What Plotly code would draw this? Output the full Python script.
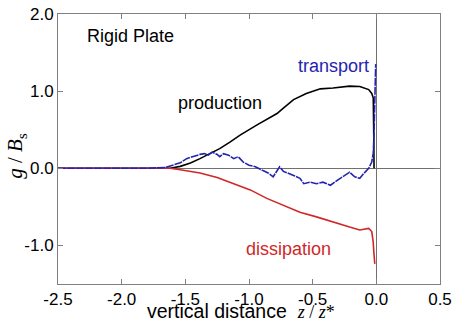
import plotly.graph_objects as go

# production (black)
prod_x = [-2.5, -1.8, -1.62, -1.54, -1.46, -1.385, -1.31, -1.23, -1.15, -1.07, -0.94, -0.78,
          -0.73, -0.65, -0.55, -0.44, -0.34, -0.21, -0.13, -0.06, -0.036, -0.024, -0.02, -0.018]
prod_y = [0.0, 0.0, 0.0, 0.025, 0.07, 0.125, 0.19, 0.255, 0.34, 0.43, 0.56, 0.71,
          0.78, 0.89, 0.97, 1.03, 1.04, 1.065, 1.06, 1.02, 0.97, 0.91, 0.4, 0.0]

# transport (blue)
trans_x = [-2.5, -1.8, -1.66, -1.62, -1.54, -1.49, -1.44, -1.385, -1.35, -1.32, -1.29, -1.25,
           -1.23, -1.20, -1.16, -1.12, -1.085, -1.045, -1.0, -0.95, -0.89, -0.85, -0.81, -0.76,
           -0.73, -0.68, -0.64, -0.60, -0.57, -0.52, -0.47, -0.42, -0.36, -0.31, -0.26, -0.21,
           -0.17, -0.13, -0.10, -0.06, -0.036, -0.024, -0.018, -0.012, -0.008, -0.005]
trans_y = [0.0, 0.0, 0.01, 0.03, 0.07, 0.125, 0.155, 0.18, 0.19, 0.17, 0.21, 0.18,
           0.15, 0.19, 0.17, 0.125, 0.15, 0.08, 0.04, 0.02, -0.03, -0.06, -0.11, 0.02,
           -0.04, -0.07, -0.10, -0.13, -0.20, -0.18, -0.20, -0.18, -0.22, -0.16, -0.11, -0.05,
           -0.11, -0.13, -0.07, 0.0, 0.08, 0.2, 0.45, 0.8, 1.1, 1.35]

# dissipation (red)
diss_x = [-2.5, -1.8, -1.62, -1.54, -1.385, -1.25, -1.12, -0.99, -0.86, -0.73, -0.6, -0.47,
          -0.34, -0.21, -0.13, -0.06, -0.036, -0.025, -0.018, -0.012]
diss_y = [0.0, 0.0, 0.0, -0.02, -0.06, -0.12, -0.2, -0.28, -0.39, -0.48, -0.57, -0.63,
          -0.70, -0.76, -0.80, -0.78, -0.82, -0.95, -1.12, -1.24]

x_ticks = [-2.5, -2.0, -1.5, -1.0, -0.5, 0.0, 0.5]
x_tick_labels = ["-2.5", "-2.0", "-1.5", "-1.0", "-0.5", "0.0", "0.5"]
y_ticks = [-1.0, 0.0, 1.0, 2.0]
y_tick_labels = ["-1.0", "0.0", "1.0", "2.0"]

BLUE = "#2424b0"
RED = "#d02828"
SANS = "Liberation Sans, Arial, sans-serif"
SERIF = "Liberation Serif, Times New Roman, serif"

fig = go.Figure()
fig.add_trace(go.Scatter(x=prod_x, y=prod_y, mode="lines",
                         line=dict(color="black", width=1.6), showlegend=False))
fig.add_trace(go.Scatter(x=diss_x, y=diss_y, mode="lines",
                         line=dict(color=RED, width=1.6), showlegend=False))
fig.add_trace(go.Scatter(x=trans_x, y=trans_y, mode="lines",
                         line=dict(color=BLUE, width=1.6, dash="8px,1px"), showlegend=False))

axis_common = dict(showline=True, linecolor="#808080", linewidth=1, mirror="ticks",
                   ticks="inside", ticklen=5, tickcolor="#808080", showgrid=False,
                   zeroline=True, zerolinecolor="#707070", zerolinewidth=1, automargin=False,
                   tickfont=dict(family=SANS, size=17, color="black"))

fig.update_xaxes(range=[-2.5, 0.5], tickvals=x_ticks, ticktext=x_tick_labels, **axis_common)
fig.update_yaxes(range=[-1.5, 2.0], tickvals=y_ticks, ticktext=y_tick_labels, **axis_common)

anns = [
    dict(x=-2.29, y=1.71, text="Rigid Plate", color="black"),
    dict(x=-1.23, y=0.85, text="production", color="black"),
    dict(x=-0.34, y=1.32, text="transport", color=BLUE),
    dict(x=-0.69, y=-1.04, text="dissipation", color=RED),
]
for a in anns:
    fig.add_annotation(x=a["x"], y=a["y"], xref="x", yref="y", text=a["text"],
                       showarrow=False, xanchor="center" if a["text"] != "Rigid Plate" else "left",
                       yanchor="middle",
                       font=dict(family=SANS, size=18, color=a["color"]))

fig.add_annotation(x=0.479, y=-0.148, xref="paper", yref="paper", showarrow=False,
                   xanchor="center", yanchor="bottom",
                   text="vertical distance  <span style='font-family:Liberation Serif;font-size:18px'><i>z</i> / <i>z</i>*</span>",
                   font=dict(family=SANS, size=19.5, color="black"))
fig.add_annotation(x=-0.11, y=0.475, xref="paper", yref="paper", showarrow=False,
                   xanchor="center", yanchor="middle", textangle=-90,
                   text="<i>g</i> / <i>B</i><sub>s</sub>",
                   font=dict(family=SERIF, size=21, color="black"))

fig.update_layout(width=455, height=324, margin=dict(l=58, r=15, t=14, b=40, autoexpand=False),
                  plot_bgcolor="white", paper_bgcolor="white")

fig.write_html("out.html", config={"displayModeBar": False})

with open("out.html", "r", encoding="utf-8") as f:
    html = f.read()
html = html.replace("<head>", "<head><style>html,body{margin:0;padding:0;overflow:hidden;}</style>", 1)
with open("out.html", "w", encoding="utf-8") as f:
    f.write(html)
